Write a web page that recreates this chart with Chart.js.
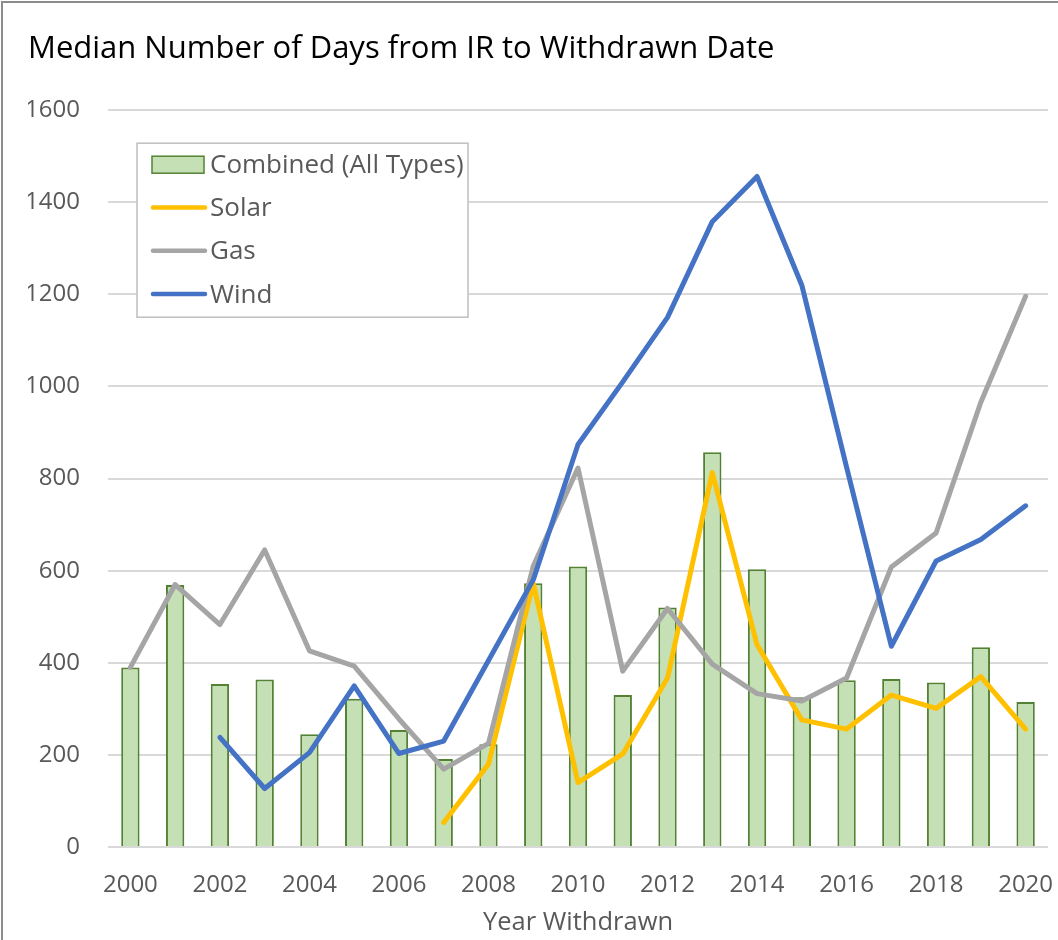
<!DOCTYPE html>
<html>
<head>
<meta charset="utf-8">
<script src="https://cdn.jsdelivr.net/npm/chart.js@4"></script>
<style>
  html, body { margin: 0; padding: 0; background: #ffffff; }
  #wrap { width: 1058px; height: 940px; position: relative; }
</style>
</head>
<body>
<div id="wrap"><canvas id="chart" width="1058" height="940"></canvas></div>
<script>
// data
const years = ['2000', '2001', '2002', '2003', '2004', '2005', '2006', '2007', '2008', '2009', '2010',
               '2011', '2012', '2013', '2014', '2015', '2016', '2017', '2018', '2019', '2020'];
const combined = [390, 569, 354, 364, 245, 322, 254, 191, 223, 573, 609, 330, 520, 857, 603, 325, 362, 365, 357, 434, 315];
const solar = [null, null, null, null, null, null, null, 53, 180, 573, 140, 202, 367, 813, 439, 276, 256, 330, 301, 370, 256];
const gas = [390, 570, 483, 645, 426, 393, 278, 169, 225, 610, 823, 382, 518, 397, 333, 317, 367, 608, 682, 966, 1196];
const wind = [null, null, 238, 127, 205, 350, 203, 230, 405, 580, 874, 1010, 1150, 1358, 1456, 1220, 825, 436, 621, 668, 741];
const yTicks = [0, 200, 400, 600, 800, 1000, 1200, 1400, 1600];

const FONT = '"Open Sans", "Noto Sans", sans-serif';
const textGrey = '#595959';

// white background + the chart frame edges visible on the top and left
const framePlugin = {
    id: 'frame',
    beforeDraw(chart) {
        const ctx = chart.ctx;
        ctx.save();
        ctx.fillStyle = '#ffffff';
        ctx.fillRect(0, 0, chart.width, chart.height);
        ctx.strokeStyle = '#8c8c8c';
        ctx.lineWidth = 2;
        ctx.beginPath();
        ctx.moveTo(2, chart.height);
        ctx.lineTo(2, 2);
        ctx.lineTo(chart.width, 2);
        ctx.stroke();
        ctx.restore();
    }
};

// legend box drawn inside the plot area, like the Excel one
const insideLegend = {
    id: 'insideLegend',
    afterDatasetsDraw(chart) {
        const ctx = chart.ctx;
        const area = chart.chartArea;
        const x0 = area.left + 29;
        const y0 = area.top + 33;
        const w = 331, h = 174;
        const rowGap = 43.3;
        ctx.save();
        ctx.fillStyle = '#ffffff';
        ctx.fillRect(x0, y0, w, h);
        ctx.strokeStyle = '#bfbfbf';
        ctx.lineWidth = 1.5;
        ctx.strokeRect(x0, y0, w, h);
        ctx.font = '26px ' + FONT;
        ctx.textBaseline = 'middle';
        chart.data.datasets.forEach((ds, i) => {
            const cy = y0 + 21 + i * rowGap;
            if (ds.type === 'bar') {
                ctx.fillStyle = ds.backgroundColor;
                ctx.fillRect(x0 + 15, cy - 8, 52, 17);
                ctx.strokeStyle = ds.borderColor;
                ctx.lineWidth = 1.5;
                ctx.strokeRect(x0 + 15, cy - 8, 52, 17);
            } else {
                ctx.strokeStyle = ds.borderColor;
                ctx.lineWidth = 4.5;
                ctx.lineCap = 'round';
                ctx.beginPath();
                ctx.moveTo(x0 + 16, cy);
                ctx.lineTo(x0 + 68, cy);
                ctx.stroke();
            }
            ctx.fillStyle = textGrey;
            ctx.fillText(ds.label, x0 + 73, cy + 1);
        });
        ctx.restore();
    }
};

function lineSet(label, data, color, order) {
    return {
        type: 'line',
        label: label,
        data: data,
        borderColor: color,
        backgroundColor: color,
        borderWidth: 5,
        pointRadius: 0,
        borderCapStyle: 'round',
        borderJoinStyle: 'round',
        tension: 0,
        spanGaps: false,
        order: order
    };
}

new Chart(document.getElementById('chart'), {
    data: {
        labels: years,
        datasets: [
            {
                type: 'bar',
                label: 'Combined (All Types)',
                data: combined,
                backgroundColor: '#c5e0b4',
                borderColor: '#548235',
                borderWidth: 2,
                barPercentage: 0.41,
                categoryPercentage: 1,
                order: 10
            },
            lineSet('Solar', solar, '#ffc000', 3),
            lineSet('Gas', gas, '#a5a5a5', 2),
            lineSet('Wind', wind, '#4472c4', 1)
        ]
    },
    options: {
        responsive: false,
        animation: false,
        layout: { padding: { left: 28, right: 10, top: 0, bottom: 0 } },
        plugins: {
            legend: { display: false },
            tooltip: { enabled: false },
            title: {
                display: true,
                text: 'Median Number of Days from IR to Withdrawn Date',
                align: 'start',
                color: '#000000',
                font: { family: FONT, size: 31, weight: 'normal', lineHeight: 1.2 },
                padding: { top: 31, bottom: 42 }
            }
        },
        scales: {
            x: {
                offset: true,
                grid: { display: false, drawTicks: false },
                border: { display: false },
                ticks: {
                    autoSkip: false,
                    maxRotation: 0,
                    padding: 26,
                    color: textGrey,
                    font: { family: FONT, size: 24, lineHeight: 1 },
                    callback(value, index) {
                        return index % 2 === 0 ? this.getLabelForValue(value) : '';
                    }
                },
                title: {
                    display: true,
                    text: 'Year Withdrawn',
                    color: textGrey,
                    font: { family: FONT, size: 25.5, lineHeight: 1 },
                    padding: { top: 6, bottom: 5 }
                },
                afterFit(scale) {
                    scale.height = 93;
                    scale.paddingLeft = 0;
                    scale.paddingRight = 0;
                }
            },
            y: {
                min: 0,
                max: 1600,
                afterBuildTicks(scale) { scale.ticks = yTicks.map(v => ({ value: v })); },
                grid: { color: '#d9d9d9', lineWidth: 2, drawTicks: false },
                border: { display: false },
                ticks: {
                    padding: 28,
                    color: textGrey,
                    font: { family: FONT, size: 24, lineHeight: 1 },
                    callback: (value) => String(value)
                },
                afterFit(scale) { scale.width = 80; }
            }
        }
    },
    plugins: [framePlugin, insideLegend]
});
</script>
</body>
</html>
